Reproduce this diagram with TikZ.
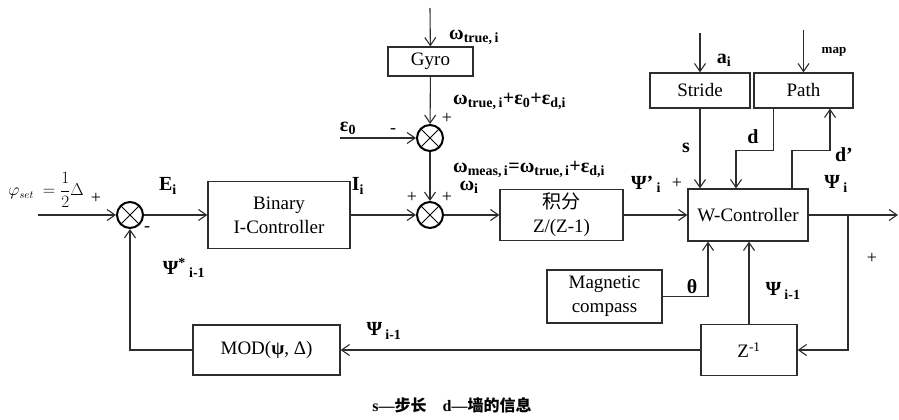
\documentclass[tikz,border=0pt]{standalone}
\usepackage{fontspec}
\setmainfont{Liberation Serif}
\newfontfamily\cjk{Noto Sans CJK SC}
\usetikzlibrary{arrows.meta, positioning, calc}
\usepackage{xcolor}
\definecolor{linecol}{RGB}{45,45,45}
\newcommand{\sbs}[1]{\textsubscript{#1}}

\begin{document}
\begin{tikzpicture}[
  x=1pt, y=-1pt,
  blk/.style={
    draw=linecol, line width=1.2pt, align=center, inner sep=0pt,
    font=\fontsize{19}{24}\selectfont
  },
  sumnode/.style={
    circle, draw=black, line width=2pt, minimum size=26pt, inner sep=0pt,
    path picture={
      \draw[line width=0.9pt]
        (path picture bounding box.north west) -- (path picture bounding box.south east)
        (path picture bounding box.south west) -- (path picture bounding box.north east);
    }
  },
  arr/.style={-{Straight Barb[length=8pt,width=11pt]}, line width=1.1pt, color=linecol},
  lbl/.style={font=\fontsize{20}{22}\selectfont\bfseries, inner sep=1pt},
  sgn/.style={font=\fontsize{18}{20}\selectfont, inner sep=0pt},
]

\fill[white] (0,0) rectangle (899,420);

% --- Blocks ---
\node[blk, minimum width=142pt, minimum height=67pt] (bic) at (279,215) {Binary\\I-Controller};
\node[blk, minimum width=85pt, minimum height=29pt] (gyro) at (430.5,61.5) {Gyro};
\node[blk, minimum width=123pt, minimum height=51pt] (integ) at (561.5,215) {{\cjk 积分}\\Z/(Z-1)};
\node[blk, minimum width=120pt, minimum height=52pt] (wctrl) at (748,215) {W-Controller};
\node[blk, minimum width=100pt, minimum height=35pt] (stride) at (700,90.5) {Stride};
\node[blk, minimum width=99pt, minimum height=35pt] (path) at (803.5,90.5) {Path};
\node[blk, minimum width=115pt, minimum height=53pt] (compass) at (604.5,296.5) {Magnetic\\compass};
\node[blk, minimum width=96pt, minimum height=51pt] (zinv) at (749,350) {Z\textsuperscript{-1}};
\node[blk, minimum width=147pt, minimum height=50pt] (mod) at (266.5,350) {MOD(\textbf{ψ}, Δ)};

% --- Summing points ---
\node[sumnode] (s1) at (130,215) {};
\node[sumnode] (s2) at (430,138) {};
\node[sumnode] (s3) at (430,215) {};

% --- Free ends ---
\coordinate (setin) at (38,215);
\coordinate (gin) at (430,8);
\coordinate (ein) at (340,138);
\coordinate (ain) at (700,33);
\coordinate (mapin) at (803.5,30);
\coordinate (out) at (898,215);
\coordinate (branch) at (848,215);

% --- Forward path ---
\draw[arr] (setin) -- (s1);
\draw[arr] (s1) -- (bic);
\draw[arr] (bic) -- (s3);
\draw[arr] (s3) -- (integ);
\draw[arr] (integ) -- (wctrl);
\draw[arr] (wctrl) -- (out);

% --- Gyro branch ---
\draw[arr] (gin) -- (gyro);
\draw[arr] (gyro) -- (s2);
\draw[arr] (ein) -- (s2);
\draw[arr] (s2) -- (s3);

% --- Stride / Path ---
\draw[arr] (ain) -- (stride);
\draw[arr] (mapin) -- (path);
\draw[arr] (stride.south) -- (stride.south |- wctrl.north);
\draw[arr] ([xshift=-30pt]path.south) -- ++(0,42) -| ([xshift=-12pt]wctrl.north);
\draw[arr] ([xshift=44pt]wctrl.north) |- ([xshift=26.5pt,yshift=-42pt]path.south)
  -- ([xshift=26.5pt]path.south);

% --- Compass and delay ---
\draw[arr] (compass.east) -| ([xshift=-40pt]wctrl.south);
\draw[arr] (zinv.north) -- (zinv.north |- wctrl.south);
\draw[arr] (branch) |- (zinv.east);
\draw[arr] (zinv.west) -- (mod.east);
\draw[arr] (mod.west) -| (s1.south);

% --- Labels ---
\node[font=\fontsize{16}{18}\selectfont, inner sep=0pt] (setlab) at (46,190)
  {$\varphi_{set}\ =\displaystyle\frac{1}{2}\Delta$};
\node[sgn] (p1) at (96,198) {+};
\node[sgn] (m1) at (147,229) {-};
\node[lbl] (elab) at (168,186) {E\sbs{i}};
\node[lbl] (pfb) at (184,268) {Ψ\textsuperscript{*}\,\sbs{i-1}};
\node[lbl] (ilab) at (358,186) {I\sbs{i}};
\node[sgn] (p2) at (412,197) {+};
\node[sgn] (p3) at (447,197) {+};
\node[lbl] (wlab) at (469,187) {ω\sbs{i}};
\node[lbl] (pslab) at (646,184) {Ψ'\,\sbs{i}};
\node[lbl] (polab) at (836,184) {Ψ\,\sbs{i}};
\node[sgn] (p4) at (872,258) {+};
\node[lbl, anchor=west] (wtrue) at (448,37) {ω\sbs{true,\,i}};
\node[lbl, anchor=west] (wgyro) at (452,101) {ω\sbs{true,\,i}+ε\sbs{0}+ε\sbs{d,i}};
\node[lbl] (e0lab) at (348,128) {ε\sbs{0}};
\node[sgn] (m2) at (393,131) {-};
\node[sgn] (p5) at (447,118) {+};
\node[lbl, anchor=west] (wmeas) at (452,169) {ω\sbs{meas,\,i}=ω\sbs{true,\,i}+ε\sbs{d,i}};
\node[lbl] (alab) at (724,60) {a\sbs{i}};
\node[lbl, font=\fontsize{13}{15}\selectfont\bfseries] (maplab) at (834,52) {map};
\node[lbl] (slab) at (686,148) {s};
\node[sgn] (p6) at (677,183) {+};
\node[lbl] (dlab) at (753,137) {d};
\node[lbl] (dplab) at (844,155) {d'};
\node[lbl] (thlab) at (692,287) {θ};
\node[lbl] (pzlab) at (783,291) {Ψ\,\sbs{i-1}};
\node[lbl] (pmlab) at (384,331) {Ψ\,\sbs{i-1}};
\node[font=\fontsize{16}{18}\selectfont\bfseries] (note) at (452,405)
  {s—{\cjk\bfseries 步长}\quad d—{\cjk\bfseries 墙的信息}};

\end{tikzpicture}
\end{document}
